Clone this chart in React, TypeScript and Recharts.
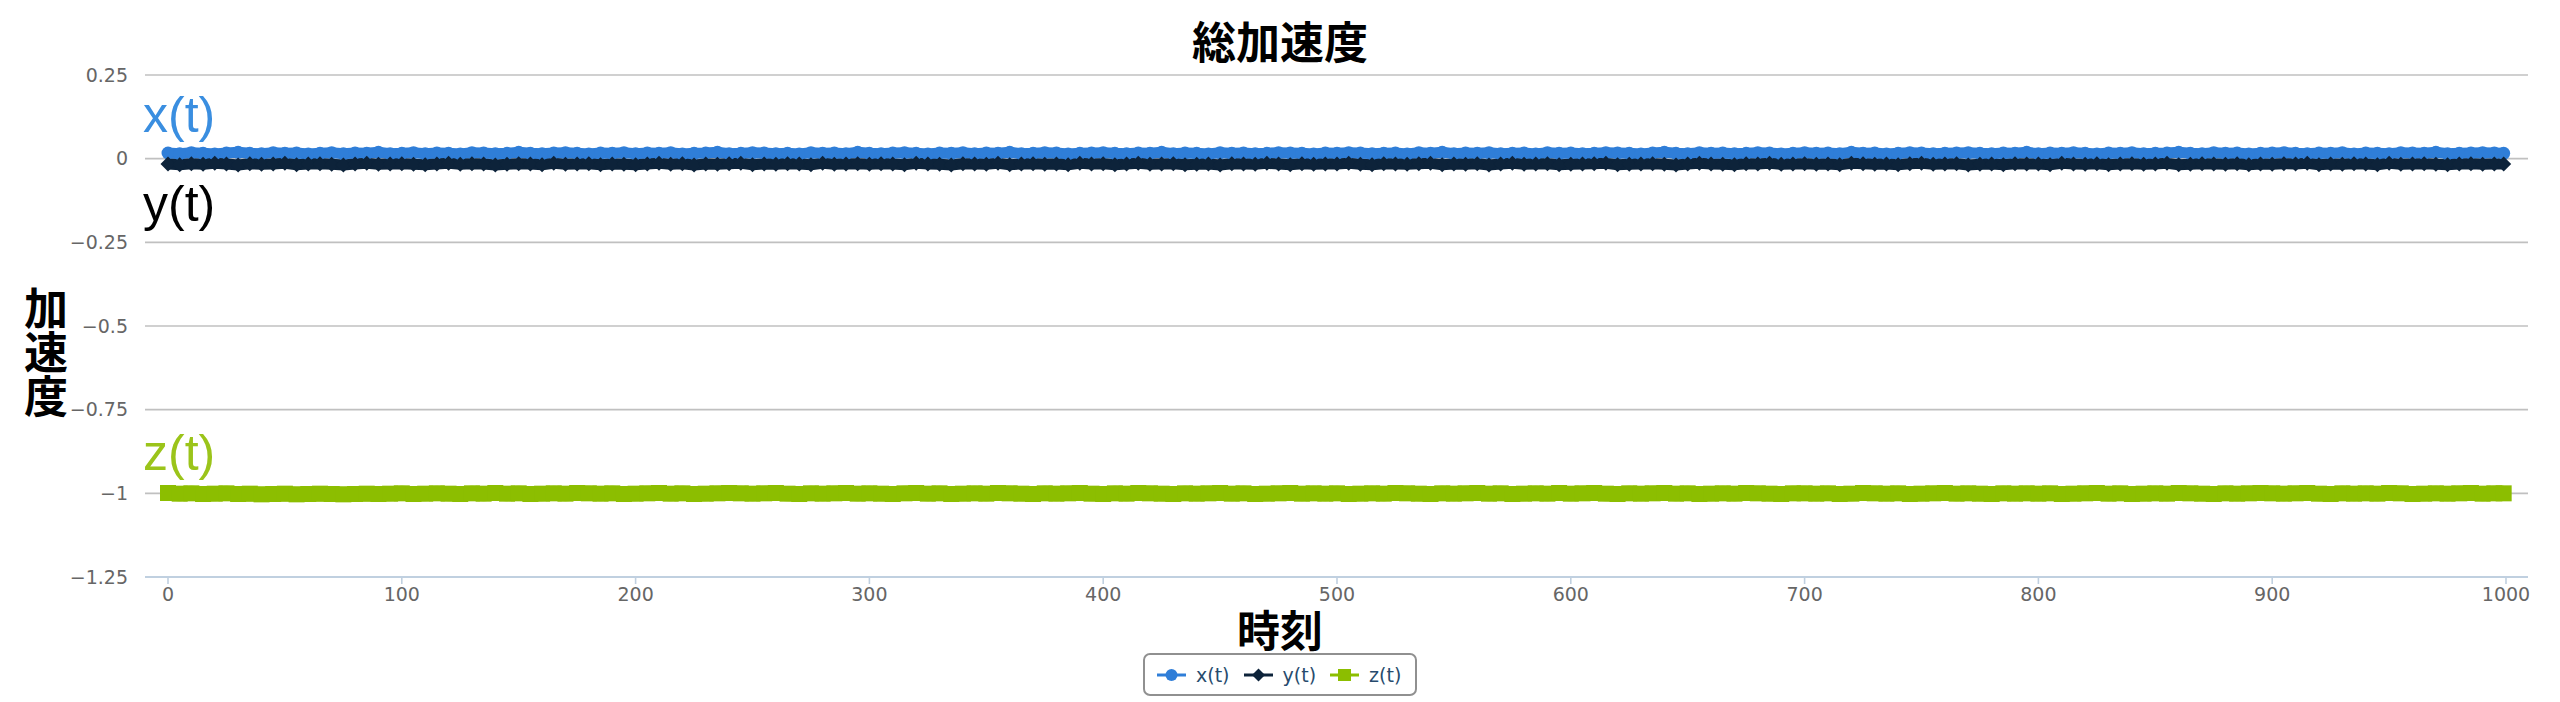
import React from 'react';
import { LineChart, Line, XAxis, YAxis, CartesianGrid } from 'recharts';

// sample times (every 5th sample of the 0..999 run)
const TIMES = [
  0, 5, 10, 15, 20, 25, 30, 35, 40, 45, 50, 55, 60, 65, 70, 75, 80, 85, 90, 95,
  100, 105, 110, 115, 120, 125, 130, 135, 140, 145, 150, 155, 160, 165, 170, 175, 180, 185, 190, 195,
  200, 205, 210, 215, 220, 225, 230, 235, 240, 245, 250, 255, 260, 265, 270, 275, 280, 285, 290, 295,
  300, 305, 310, 315, 320, 325, 330, 335, 340, 345, 350, 355, 360, 365, 370, 375, 380, 385, 390, 395,
  400, 405, 410, 415, 420, 425, 430, 435, 440, 445, 450, 455, 460, 465, 470, 475, 480, 485, 490, 495,
  500, 505, 510, 515, 520, 525, 530, 535, 540, 545, 550, 555, 560, 565, 570, 575, 580, 585, 590, 595,
  600, 605, 610, 615, 620, 625, 630, 635, 640, 645, 650, 655, 660, 665, 670, 675, 680, 685, 690, 695,
  700, 705, 710, 715, 720, 725, 730, 735, 740, 745, 750, 755, 760, 765, 770, 775, 780, 785, 790, 795,
  800, 805, 810, 815, 820, 825, 830, 835, 840, 845, 850, 855, 860, 865, 870, 875, 880, 885, 890, 895,
  900, 905, 910, 915, 920, 925, 930, 935, 940, 945, 950, 955, 960, 965, 970, 975, 980, 985, 990, 995, 999,
];

const X_VALUES = [
  0.017, 0.015, 0.018, 0.016, 0.014, 0.017, 0.019, 0.016, 0.015, 0.018, 0.016, 0.017, 0.014, 0.016, 0.018, 0.015, 0.017, 0.016, 0.019, 0.015,
  0.016, 0.018, 0.015, 0.017, 0.016, 0.014, 0.018, 0.017, 0.015, 0.016, 0.019, 0.016, 0.015, 0.017, 0.018, 0.016, 0.014, 0.017, 0.016, 0.018,
  0.015, 0.017, 0.016, 0.018, 0.014, 0.016, 0.017, 0.019, 0.015, 0.016, 0.018, 0.017, 0.015, 0.016, 0.014, 0.018, 0.016, 0.017, 0.015, 0.019,
  0.016, 0.015, 0.017, 0.018, 0.016, 0.014, 0.017, 0.016, 0.018, 0.015, 0.017, 0.016, 0.019, 0.015, 0.016, 0.018, 0.017, 0.014, 0.016, 0.017,
  0.018, 0.016, 0.015, 0.017, 0.016, 0.019, 0.015, 0.017, 0.016, 0.014, 0.018, 0.016, 0.017, 0.015, 0.016, 0.018, 0.017, 0.016, 0.014, 0.017,
  0.016, 0.018, 0.017, 0.015, 0.016, 0.017, 0.014, 0.018, 0.016, 0.019, 0.015, 0.017, 0.016, 0.018, 0.015, 0.016, 0.017, 0.014, 0.018, 0.016,
  0.017, 0.015, 0.016, 0.018, 0.017, 0.016, 0.014, 0.017, 0.019, 0.016, 0.015, 0.018, 0.016, 0.017, 0.015, 0.016, 0.018, 0.017, 0.014, 0.016,
  0.018, 0.016, 0.017, 0.015, 0.019, 0.016, 0.017, 0.014, 0.016, 0.018, 0.017, 0.015, 0.016, 0.017, 0.018, 0.016, 0.015, 0.017, 0.016, 0.019,
  0.015, 0.017, 0.016, 0.018, 0.016, 0.014, 0.017, 0.016, 0.018, 0.015, 0.016, 0.017, 0.019, 0.016, 0.015, 0.018, 0.016, 0.017, 0.014, 0.016,
  0.017, 0.018, 0.016, 0.015, 0.017, 0.016, 0.018, 0.014, 0.017, 0.016, 0.015, 0.018, 0.017, 0.016, 0.019, 0.015, 0.016, 0.017, 0.018, 0.017, 0.016,
];

const Y_VALUES = [
  -0.016, -0.018, -0.015, -0.017, -0.014, -0.016, -0.019, -0.015, -0.017, -0.016, -0.014, -0.018, -0.016, -0.015, -0.017, -0.019, -0.016, -0.014, -0.017, -0.016,
  -0.015, -0.017, -0.018, -0.016, -0.014, -0.017, -0.015, -0.016, -0.019, -0.017, -0.015, -0.016, -0.018, -0.014, -0.017, -0.016, -0.015, -0.018, -0.016, -0.017,
  -0.018, -0.016, -0.014, -0.017, -0.015, -0.019, -0.016, -0.017, -0.015, -0.014, -0.018, -0.016, -0.017, -0.015, -0.016, -0.018, -0.014, -0.017, -0.016, -0.015,
  -0.017, -0.015, -0.016, -0.018, -0.014, -0.016, -0.017, -0.019, -0.015, -0.016, -0.017, -0.014, -0.018, -0.016, -0.015, -0.017, -0.016, -0.018, -0.014, -0.016,
  -0.015, -0.018, -0.016, -0.014, -0.017, -0.016, -0.015, -0.018, -0.017, -0.016, -0.019, -0.015, -0.016, -0.017, -0.014, -0.016, -0.018, -0.015, -0.017, -0.016,
  -0.016, -0.014, -0.017, -0.018, -0.015, -0.016, -0.017, -0.015, -0.014, -0.018, -0.016, -0.017, -0.015, -0.019, -0.016, -0.014, -0.017, -0.016, -0.015, -0.018,
  -0.017, -0.016, -0.015, -0.014, -0.018, -0.017, -0.016, -0.015, -0.017, -0.019, -0.016, -0.014, -0.016, -0.017, -0.018, -0.015, -0.016, -0.014, -0.017, -0.016,
  -0.015, -0.017, -0.016, -0.018, -0.014, -0.015, -0.017, -0.016, -0.018, -0.015, -0.014, -0.017, -0.016, -0.015, -0.019, -0.017, -0.016, -0.018, -0.015, -0.016,
  -0.016, -0.018, -0.014, -0.016, -0.017, -0.015, -0.018, -0.016, -0.015, -0.017, -0.016, -0.014, -0.018, -0.017, -0.015, -0.016, -0.017, -0.015, -0.018, -0.016,
  -0.017, -0.015, -0.016, -0.014, -0.018, -0.016, -0.017, -0.015, -0.016, -0.018, -0.014, -0.017, -0.016, -0.015, -0.017, -0.018, -0.016, -0.015, -0.017, -0.016, -0.016,
];

const Z_VALUES = [
  -0.999, -1.001, -1.000, -1.002, -1.001, -1.000, -1.002, -1.001, -1.003, -1.002, -1.001, -1.003, -1.002, -1.001, -1.002, -1.003, -1.002, -1.001, -1.002, -1.001,
  -1.000, -1.002, -1.001, -1.000, -1.001, -1.002, -1.000, -1.001, -0.999, -1.001, -1.000, -1.002, -1.001, -1.000, -1.001, -0.999, -1.000, -1.001, -1.000, -1.002,
  -1.001, -1.000, -0.999, -1.001, -1.000, -1.002, -1.001, -1.000, -0.999, -1.000, -1.001, -1.000, -0.999, -1.001, -1.002, -1.000, -1.001, -1.000, -0.999, -1.001,
  -1.000, -1.001, -1.002, -1.000, -0.999, -1.001, -1.000, -1.002, -1.001, -1.000, -1.001, -0.999, -1.000, -1.001, -1.002, -1.000, -1.001, -1.000, -0.999, -1.001,
  -1.002, -1.000, -1.001, -0.999, -1.000, -1.001, -1.002, -1.000, -1.001, -1.000, -0.999, -1.001, -1.000, -1.002, -1.001, -1.000, -0.999, -1.001, -1.000, -1.001,
  -1.000, -1.002, -1.001, -1.000, -1.001, -0.999, -1.000, -1.001, -1.002, -1.000, -1.001, -1.000, -0.999, -1.001, -1.000, -1.002, -1.001, -1.000, -1.001, -0.999,
  -1.001, -1.000, -0.999, -1.001, -1.002, -1.000, -1.001, -1.000, -0.999, -1.001, -1.000, -1.002, -1.001, -1.000, -1.001, -0.999, -1.000, -1.001, -1.002, -1.000,
  -1.000, -1.001, -1.000, -1.002, -1.001, -0.999, -1.000, -1.001, -1.000, -1.002, -1.001, -1.000, -0.999, -1.001, -1.000, -1.001, -1.002, -1.000, -1.001, -1.000,
  -1.001, -1.000, -1.002, -1.001, -1.000, -0.999, -1.001, -1.000, -1.002, -1.001, -1.000, -1.001, -0.999, -1.000, -1.001, -1.002, -1.000, -1.001, -1.000, -0.999,
  -1.000, -1.001, -1.000, -0.999, -1.001, -1.002, -1.000, -1.001, -1.000, -1.001, -0.999, -1.000, -1.002, -1.001, -1.000, -1.001, -1.000, -0.999, -1.001, -1.000, -1.000,
];

const X_TICKS = [0, 100, 200, 300, 400, 500, 600, 700, 800, 900, 1000];
const Y_TICKS = [0.25, 0, -0.25, -0.5, -0.75, -1, -1.25];

const SERIES_NAMES = ['x(t)', 'y(t)', 'z(t)'];
const COLORS = ['#2f7ed8', '#0d233a', '#8cbe00'];

const data = TIMES.map((t, i) => ({ t, x: X_VALUES[i], y: Y_VALUES[i], z: Z_VALUES[i] }));

const fmtY = (v: number) => (v < 0 ? '\u2212' + String(-v) : String(v));

const circleDot = (color: string) => (p: any) => (
  <circle key={`c-${p.index}`} cx={p.cx} cy={p.cy} r={6.5} fill={color} />
);
const diamondDot = (color: string) => (p: any) => (
  <path
    key={`d-${p.index}`}
    d={`M${p.cx},${p.cy - 7.5}L${p.cx + 7.5},${p.cy}L${p.cx},${p.cy + 7.5}L${p.cx - 7.5},${p.cy}Z`}
    fill={color}
  />
);
const squareDot = (color: string) => (p: any) => (
  <rect key={`s-${p.index}`} x={p.cx - 8} y={p.cy - 8} width={16} height={16} fill={color} />
);

// name label next to the first point of each series
const firstPointLabel = (text: string, color: string, dx: number, dy: number) => (p: any) => {
  if (p.index !== 0) return <g key={`l-${p.index}`} />;
  return (
    <text key="first" x={p.x + dx} y={p.y + dy} fill={color} fontSize={50} fontFamily="Liberation Sans, Arial, sans-serif">
      {text}
    </text>
  );
};

const LegendSymbol = ({ i }: { i: number }) => {
  const c = COLORS[i];
  return (
    <svg width={29} height={14} style={{ display: 'block' }}>
      <line x1={0} y1={7} x2={29} y2={7} stroke={c} strokeWidth={3} />
      {i === 0 && <circle cx={14.5} cy={7} r={6} fill={c} />}
      {i === 1 && <path d="M14.5,0.5L21,7L14.5,13.5L8,7Z" fill={c} />}
      {i === 2 && <rect x={8} y={1} width={13} height={12} fill={c} />}
    </svg>
  );
};

const cjk = '"Noto Sans CJK JP", "Noto Sans CJK SC", sans-serif';
const tickStyle = { fill: '#666', fontSize: 19, fontFamily: 'DejaVu Sans' };

export default function App() {
  return (
    <div style={{ position: 'absolute', left: 0, top: 0, width: 2560, height: 702, background: '#fff' }}>
      <LineChart width={2560} height={702} data={data} margin={{ top: 75, right: 32, left: 65, bottom: 85 }}>
        <CartesianGrid horizontal vertical={false} stroke="#C0C0C0" strokeWidth={1.6} />
        <XAxis
          dataKey="t"
          type="number"
          domain={[0, 1000]}
          ticks={X_TICKS}
          padding={{ left: 23, right: 22 }}
          height={40}
          stroke="#C0D0E0"
          axisLine={{ stroke: '#C0D0E0', strokeWidth: 2 }}
          tickLine={{ stroke: '#C0D0E0', strokeWidth: 1.6 }}
          tickSize={7}
          tickMargin={4}
          tick={tickStyle}
          interval={0}
        />
        <YAxis
          type="number"
          domain={[-1.25, 0.25]}
          ticks={Y_TICKS}
          width={80}
          axisLine={false}
          tickLine={false}
          tickSize={0}
          tickMargin={17}
          tickFormatter={fmtY}
          tick={tickStyle}
          interval={0}
        />
        <Line
          dataKey="x"
          name={SERIES_NAMES[0]}
          stroke={COLORS[0]}
          strokeWidth={11}
          strokeLinecap="round"
          strokeLinejoin="round"
          dot={circleDot(COLORS[0])}
          label={firstPointLabel(SERIES_NAMES[0], '#3a8ee0', -25, -21)}
          isAnimationActive={false}
        />
        <Line
          dataKey="y"
          name={SERIES_NAMES[1]}
          stroke={COLORS[1]}
          strokeWidth={11}
          strokeLinejoin="round"
          dot={diamondDot(COLORS[1])}
          label={firstPointLabel(SERIES_NAMES[1], '#000', -25, 57)}
          isAnimationActive={false}
        />
        <Line
          dataKey="z"
          name={SERIES_NAMES[2]}
          stroke={COLORS[2]}
          strokeWidth={15}
          strokeLinejoin="round"
          dot={squareDot(COLORS[2])}
          label={firstPointLabel(SERIES_NAMES[2], '#9bc41a', -25, -23)}
          isAnimationActive={false}
        />
      </LineChart>

      <div
        style={{
          position: 'absolute', left: 0, width: 2560, top: 18, textAlign: 'center',
          fontFamily: cjk, fontWeight: 700, fontSize: 44, lineHeight: '44px', color: '#000',
        }}
      >
        総加速度
      </div>
      <div
        style={{
          position: 'absolute', left: 24, top: 286, writingMode: 'vertical-rl',
          fontFamily: cjk, fontWeight: 700, fontSize: 44, lineHeight: '44px', color: '#000',
        }}
      >
        加速度
      </div>
      <div
        style={{
          position: 'absolute', left: 0, width: 2560, top: 607, textAlign: 'center',
          fontFamily: cjk, fontWeight: 700, fontSize: 43, lineHeight: '43px', color: '#000',
        }}
      >
        時刻
      </div>

      <div
        style={{
          position: 'absolute', left: 1143, top: 653, width: 274, height: 43, boxSizing: 'border-box',
          border: '2px solid #909090', borderRadius: 7, display: 'flex', alignItems: 'center',
          paddingLeft: 12, fontFamily: 'DejaVu Sans', fontSize: 19, color: '#274b6d',
        }}
      >
        {SERIES_NAMES.map((n, i) => (
          <div key={n} style={{ display: 'flex', alignItems: 'center', marginRight: i < 2 ? 14 : 0 }}>
            <LegendSymbol i={i} />
            <span style={{ marginLeft: 10 }}>{n}</span>
          </div>
        ))}
      </div>
    </div>
  );
}
